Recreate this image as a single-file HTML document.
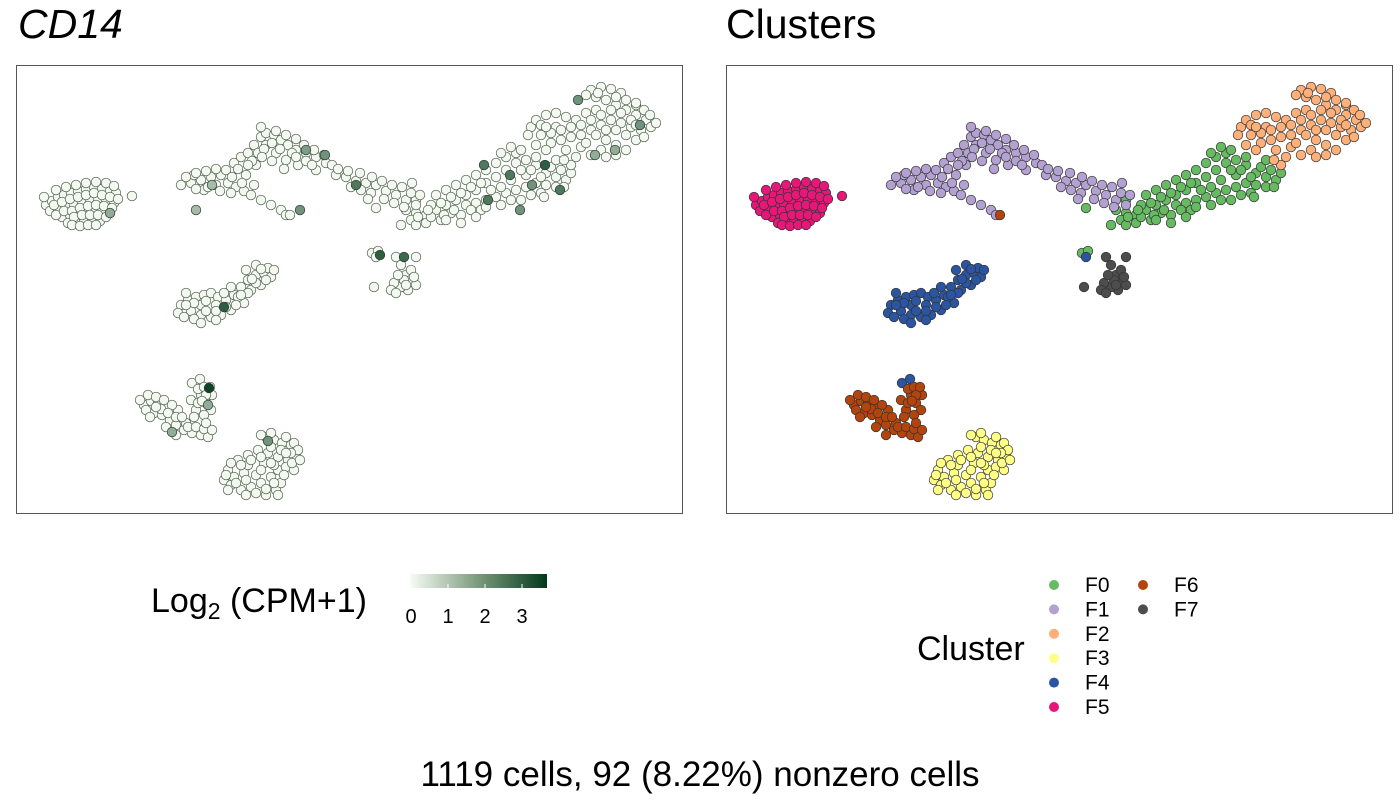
<!DOCTYPE html>
<html><head><meta charset="utf-8">
<style>
body{margin:0;background:#fff;font-family:"Liberation Sans",sans-serif;}
svg text{font-family:"Liberation Sans",sans-serif;}
</style></head>
<body>
<svg id="chart" width="1400" height="800" viewBox="0 0 1400 800" xmlns="http://www.w3.org/2000/svg">
<text x="18" y="38" font-size="41" font-style="italic" fill="#000">CD14</text>
<text x="726" y="38" font-size="41" fill="#000">Clusters</text>
<rect x="16.5" y="65.5" width="666" height="448" fill="#fff" stroke="#555"/>
<rect x="726.5" y="65.5" width="666" height="448" fill="#fff" stroke="#555"/>
<g id="leftPts"></g>
<g id="rightPts"></g>
<text x="151" y="612" font-size="34">Log<tspan font-size="23" dy="7">2</tspan><tspan dy="-7"> (CPM+1)</tspan></text>
<defs><linearGradient id="grad" x1="0" x2="1"><stop offset="0" stop-color="#f7fcf5"/><stop offset="0.5" stop-color="#7a9a7c"/><stop offset="1" stop-color="#00391a"/></linearGradient></defs>
<rect x="410" y="574" width="137" height="14" fill="url(#grad)"/>
<g id="cbTicks"></g>
<text x="917" y="660" font-size="34">Cluster</text>
<g id="clLegend"></g>
<text x="700" y="786" font-size="35" text-anchor="middle">1119 cells, 92 (8.22%) nonzero cells</text>
</svg>
<script>
const clusterNames=["F0","F1","F2","F3","F4","F5","F6","F7"];
const clusterColors=["#66bb62","#b3a2d1","#fdb07a","#ffff88","#2b55a0","#e61779","#b4440d","#4d4d4d"];
const F0=[[390,145],[400,148],[410,150],[420,145],[430,140],[440,135],[450,130],[460,125],[470,118],[480,112],[490,105],[500,98],[510,95],[520,100],[530,108],[540,112],[550,115],[420,130],[430,125],[440,120],[450,115],[460,110],[470,105],[480,98],[490,92],[500,88],[450,140],[460,138],[470,135],[480,132],[490,128],[500,125],[510,122],[520,118],[530,120],[510,110],[400,135],[395,155],[410,158],[425,155],[360,143],[356,188],[362,186],[445,150],[465,145],[485,140],[505,135],[525,128],[540,122],[415,140],[435,148],
[385,160],[400,160],[415,152],[428,150],[438,145],[455,145],[470,142],[485,122],[495,115],[505,105],[515,105],[525,112],[535,102],[545,105],[555,108],[548,122],[528,132],[515,130],[495,135],[475,125],[465,118],[455,122],[445,128],[435,132],[425,138],[412,145],[402,152],[485,88],[495,82],[505,85],[520,92],[540,95],[430,155],[445,158],[460,152]];
const F1=[[165,120],[175,118],[185,115],[195,112],[205,110],[212,118],[220,122],[228,126],[235,130],[245,135],[255,140],[265,145],[270,150],[200,120],[210,105],[218,98],[225,92],[232,88],[238,80],[245,72],[250,68],[258,70],[265,75],[272,80],[280,85],[290,88],[300,92],[310,98],[250,80],[260,88],[270,95],[282,100],[290,96],[300,105],[320,110],[330,112],[340,116],[350,118],[360,120],[335,122],[345,125],[355,128],[370,126],[380,130],[390,135],[400,140],[395,128],[245,62],[260,66],[240,100],[230,110],[215,128],[188,125],[178,110],
[170,112],[180,108],[190,106],[200,104],[180,124],[192,122],[204,126],[216,112],[226,118],[238,120],[222,104],[236,96],[242,88],[248,84],[256,78],[264,84],[276,88],[288,80],[298,85],[308,90],[316,100],[296,100],[280,92],[268,104],[256,96],[246,92],[232,100],[322,104],[332,106],[344,108],[356,112],[366,116],[376,120],[386,122],[396,118],[404,130],[368,134],[378,138],[388,142],[352,134],[270,70],[280,74]];
const F2=[[575,25],[585,22],[595,24],[605,28],[590,35],[600,40],[610,45],[620,50],[630,55],[635,62],[625,65],[615,62],[605,58],[595,55],[585,60],[575,65],[565,70],[555,72],[545,75],[535,78],[525,70],[515,62],[520,55],[530,50],[540,48],[550,52],[560,55],[570,48],[580,45],[590,75],[600,80],[585,85],[575,90],[565,82],[610,70],[620,75],[555,100],[548,95],[540,62],[580,32],[620,40],[600,65],
[570,30],[582,28],[600,32],[610,35],[620,38],[628,45],[634,50],[640,58],[615,55],[605,48],[595,45],[585,50],[575,55],[565,60],[555,62],[545,65],[535,68],[525,60],[530,62],[512,70],[520,80],[530,85],[550,85],[560,92],[570,78],[580,70],[590,65],[600,90],[610,85],[620,60],[628,72],[590,92]];
const F3=[[250,372],[258,375],[266,378],[275,380],[280,390],[272,395],[262,392],[252,388],[242,385],[232,390],[222,395],[212,405],[208,415],[215,420],[225,425],[235,422],[245,418],[255,412],[262,405],[270,402],[278,405],[260,425],[250,430],[240,410],[228,408],[218,412],[265,418],[232,400],[248,398],[258,400],
[245,370],[255,368],[270,372],[278,378],[282,385],[275,388],[265,385],[255,382],[245,392],[235,395],[225,400],[215,398],[210,410],[220,418],[230,415],[240,428],[250,424],[258,418],[268,410],[276,398],[284,395],[262,430],[230,430],[212,425],[245,405],[255,398],[270,388]];
const F4=[[165,240],[172,235],[180,232],[188,230],[195,228],[202,232],[210,235],[218,230],[225,222],[232,215],[240,210],[248,208],[255,212],[245,220],[235,225],[228,238],[215,245],[205,250],[195,252],[185,250],[175,246],[170,228],[185,240],[200,240],[215,222],[230,205],[252,203],[240,200],[176,318],[184,314],[360,192],
[162,248],[168,252],[178,254],[190,246],[200,246],[210,242],[222,232],[232,228],[240,218],[250,215],[258,205],[245,204],[236,214],[225,230],[190,236],[178,238],[208,228],[220,240],[200,255],[185,258],[170,240]];
const F5=[[30,140],[36,136],[42,132],[48,130],[55,128],[62,126],[70,124],[78,122],[86,124],[94,126],[100,128],[34,146],[42,144],[50,142],[58,140],[66,138],[74,136],[82,134],[90,136],[98,138],[46,152],[54,150],[62,148],[70,146],[78,144],[86,146],[94,148],[52,158],[60,156],[68,154],[76,154],[84,156],[116,131],
[40,125],[50,122],[60,120],[70,118],[80,117],[90,118],[98,121],[28,132],[38,140],[46,137],[54,134],[62,132],[70,130],[78,128],[86,130],[94,132],[102,134],[40,150],[48,146],[56,146],[64,143],[72,141],[80,140],[88,141],[96,143],[58,152],[66,150],[74,150],[82,150],[90,152],[56,160],[64,161],[72,160],[80,160]];
const F6=[[128,340],[135,336],[142,338],[150,342],[138,348],[146,350],[154,355],[160,360],[168,365],[176,368],[185,370],[192,372],[150,362],[160,370],[170,358],[180,345],[175,335],[185,330],[190,338],[195,345],[188,350],[162,345],[130,345],[196,330],[182,324],[188,322],[274,150],
[124,335],[132,330],[140,332],[148,335],[156,340],[145,344],[152,348],[160,352],[166,352],[172,362],[180,362],[188,364],[196,365],[190,358],[178,352],[182,338],[190,330],[194,322],[186,336],[140,342],[134,352]];
const F7=[[380,192],[385,200],[390,210],[395,215],[400,220],[392,225],[385,222],[378,218],[375,225],[395,205],[400,192],[358,222],[388,215],[382,210],[390,220],[398,212],[380,228]];
const clusters=[F0,F1,F2,F3,F4,F5,F6,F7];
// nonzero expression cells: [x, y, value]
const exprX=[94,180,208,193,252,284,340,309,468,494,529,544,579,599,562,364,472,504,156,192,624,196,290,388,516];
const exprY=[148,145,242,323,376,145,120,90,100,110,100,125,90,85,35,190,135,145,367,340,60,120,85,192,120];
const exprV=[1.5,1.2,3,3.5,2,2,2.5,2,2.5,2.5,3,2.5,1.5,1.5,2,3,2.5,2,1.5,1.5,2,1.2,1.8,2.8,2];
const cbTicks=[0,1,2,3];

const NS="http://www.w3.org/2000/svg";
const sxL=x=>16+x, sxR=x=>726+x, sy=y=>65+y;
const cb=v=>411+37*v;
function lerp(a,b,t){return Math.round(a+(b-a)*t);}
function exprColor(v){const t=Math.min(v/3.7,1);return `rgb(${lerp(245,0,t)},${lerp(250,57,t)},${lerp(240,26,t)})`;}
const L=document.getElementById('leftPts'),R=document.getElementById('rightPts');
function dot(parent,cx,cy,fill,stroke){const c=document.createElementNS(NS,'circle');c.setAttribute('cx',cx);c.setAttribute('cy',cy);c.setAttribute('r',4.8);c.setAttribute('fill',fill);c.setAttribute('stroke',stroke);c.setAttribute('stroke-width',0.7);parent.appendChild(c);return c;}
clusters.forEach((pts,ci)=>{pts.forEach(p=>{
  const a=dot(L,sxL(p[0]),sy(p[1]),'#f3f8f0','#4a5a48');
  
  
  const b=dot(R,sxR(p[0]),sy(p[1]),clusterColors[ci],'#333');
  
  
});});
exprX.forEach((x,i)=>{
  const c=dot(L,sxL(x),sy(exprY[i]),exprColor(exprV[i]),'#2a3a2a');
  
  
});
const T=document.getElementById('cbTicks');
cbTicks.forEach(v=>{
  const l=document.createElementNS(NS,'line');l.setAttribute('x1',cb(v));l.setAttribute('x2',cb(v));l.setAttribute('y1',584);l.setAttribute('y2',588);l.setAttribute('stroke','#fff');T.appendChild(l);
  const t=document.createElementNS(NS,'text');t.setAttribute('x',cb(v));t.setAttribute('y',623);t.setAttribute('font-size',20);t.setAttribute('text-anchor','middle');t.textContent=v;
  
  
  T.appendChild(t);
});
const G=document.getElementById('clLegend');
clusterNames.forEach((n,i)=>{
  const col=i<6?0:1,row=i<6?i:i-6;
  const x=1054+col*89,y=585+row*24.4;
  const c=dot(G,x,y,clusterColors[i],'none');c.setAttribute('r',5);
  
  
  const t=document.createElementNS(NS,'text');t.setAttribute('x',x+31);t.setAttribute('y',y+7);t.setAttribute('font-size',21);t.textContent=n;
  
  
  G.appendChild(t);
});
</script>
</body></html>
